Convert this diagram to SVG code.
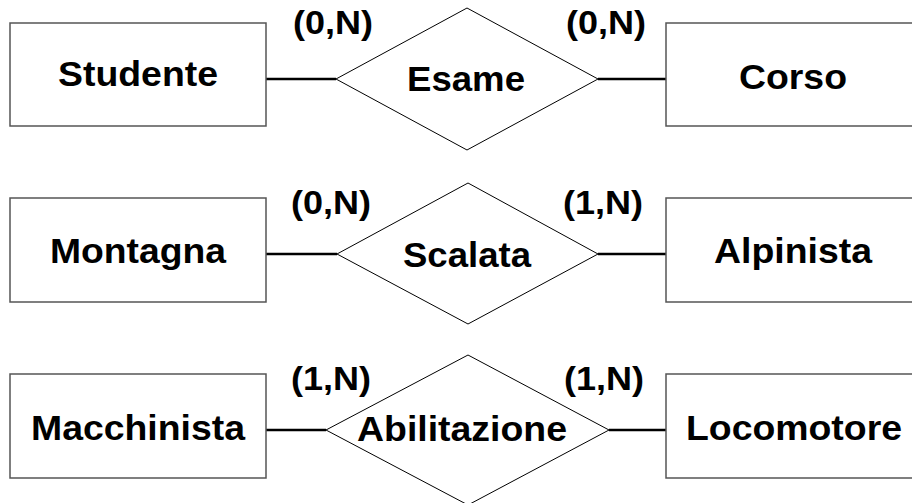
<svg xmlns="http://www.w3.org/2000/svg" width="912" height="503" viewBox="0 0 912 503">
<style>
.ent{fill:#fff;stroke:#555;stroke-width:1.5}
.rel{fill:#fff;stroke:#000;stroke-width:1}
.lbl{font-family:"Liberation Sans",Arial,sans-serif;font-weight:bold;font-size:35px;fill:#000;text-anchor:middle}
.card{font-family:"Liberation Sans",Arial,sans-serif;font-weight:bold;font-size:34px;fill:#000;text-anchor:middle}
.con{stroke:#000;stroke-width:2.5;fill:none}
</style>
<rect width="912" height="503" fill="#fff"/>
<g id="connectors">
<line class="con" x1="266" y1="79" x2="336" y2="79"/>
<line class="con" x1="598" y1="79" x2="666" y2="79"/>
<line class="con" x1="266" y1="254" x2="337" y2="254"/>
<line class="con" x1="598" y1="254" x2="666" y2="254"/>
<line class="con" x1="266" y1="430" x2="326" y2="430"/>
<line class="con" x1="609" y1="430" x2="666" y2="430"/>
</g>
<g id="studente"><rect class="ent" x="10" y="23" width="256" height="103"/><text class="lbl" x="138" y="86" textLength="160" lengthAdjust="spacingAndGlyphs">Studente</text></g>
<g id="esame"><polygon class="rel" points="467,8 598,79 467,150 336,79"/><text class="lbl" x="466" y="91" textLength="118" lengthAdjust="spacingAndGlyphs">Esame</text></g>
<g id="corso"><rect class="ent" x="666" y="23" width="260" height="103"/><text class="lbl" x="793" y="89" textLength="108" lengthAdjust="spacingAndGlyphs">Corso</text></g>
<g id="card1"><text class="card" x="333" y="34" textLength="80" lengthAdjust="spacingAndGlyphs">(0,N)</text><text class="card" x="606" y="34" textLength="80" lengthAdjust="spacingAndGlyphs">(0,N)</text></g>

<g id="montagna"><rect class="ent" x="10" y="198" width="256" height="104"/><text class="lbl" x="138" y="263" textLength="176" lengthAdjust="spacingAndGlyphs">Montagna</text></g>
<g id="scalata"><polygon class="rel" points="468,183 598,254 468,324 337,254"/><text class="lbl" x="467" y="267" textLength="128" lengthAdjust="spacingAndGlyphs">Scalata</text></g>
<g id="alpinista"><rect class="ent" x="666" y="198" width="260" height="104"/><text class="lbl" x="793" y="263" textLength="158" lengthAdjust="spacingAndGlyphs">Alpinista</text></g>
<g id="card2"><text class="card" x="331" y="214" textLength="80" lengthAdjust="spacingAndGlyphs">(0,N)</text><text class="card" x="603" y="214" textLength="80" lengthAdjust="spacingAndGlyphs">(1,N)</text></g>

<g id="macchinista"><rect class="ent" x="10" y="374" width="256" height="104"/><text class="lbl" x="138" y="440" textLength="214" lengthAdjust="spacingAndGlyphs">Macchinista</text></g>
<g id="abilitazione"><polygon class="rel" points="468,355 609,430 468,505 326,430"/><text class="lbl" x="462" y="441" textLength="210" lengthAdjust="spacingAndGlyphs">Abilitazione</text></g>
<g id="locomotore"><rect class="ent" x="666" y="374" width="260" height="104"/><text class="lbl" x="794" y="440" textLength="216" lengthAdjust="spacingAndGlyphs">Locomotore</text></g>
<g id="card3"><text class="card" x="331" y="390" textLength="80" lengthAdjust="spacingAndGlyphs">(1,N)</text><text class="card" x="604" y="390" textLength="80" lengthAdjust="spacingAndGlyphs">(1,N)</text></g>
</svg>
